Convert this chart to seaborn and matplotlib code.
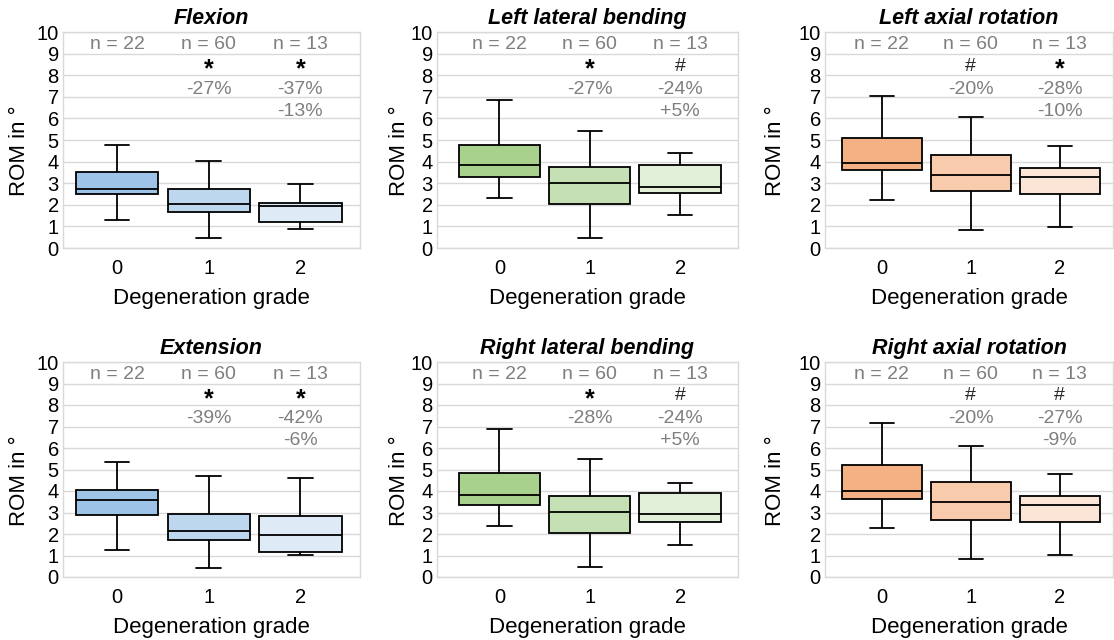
import numpy as np
import pandas as pd
import matplotlib
matplotlib.use("Agg")
import matplotlib.pyplot as plt
import seaborn as sns

# five-number summaries per grade: (min, q1, median, q3, max)
grades = ["0", "1", "2"]
n_labels = [22, 60, 13]

flexion = [(1.30, 2.50, 2.75, 3.53, 4.75), (0.48, 1.67, 2.04, 2.73, 4.03), (0.90, 1.22, 1.94, 2.10, 2.98)]
left_lat = [(2.30, 3.29, 3.83, 4.77, 6.87), (0.48, 2.04, 3.02, 3.75, 5.43), (1.54, 2.53, 2.82, 3.86, 4.40)]
left_axial = [(2.24, 3.61, 3.92, 5.11, 7.04), (0.82, 2.64, 3.40, 4.31, 6.08), (0.96, 2.48, 3.27, 3.70, 4.74)]
extension = [(1.24, 2.88, 3.56, 4.03, 5.37), (0.44, 1.74, 2.12, 2.91, 4.68), (1.01, 1.15, 1.94, 2.85, 4.60)]
right_lat = [(2.38, 3.36, 3.83, 4.85, 6.90), (0.47, 2.05, 3.03, 3.79, 5.47), (1.51, 2.55, 2.94, 3.93, 4.37)]
right_axial = [(2.27, 3.62, 4.00, 5.19, 7.15), (0.82, 2.64, 3.50, 4.43, 6.11), (1.01, 2.55, 3.37, 3.79, 4.81)]

titles = ["Flexion", "Left lateral bending", "Left axial rotation",
          "Extension", "Right lateral bending", "Right axial rotation"]
panel_data = [flexion, left_lat, left_axial, extension, right_lat, right_axial]

# significance markers and percentage changes (grade 1, grade 2)
marks = [["*", "*"], ["*", "#"], ["#", "*"], ["*", "*"], ["*", "#"], ["#", "#"]]
pct_first = [["-27%", "-37%"], ["-27%", "-24%"], ["-20%", "-28%"],
             ["-39%", "-42%"], ["-28%", "-24%"], ["-20%", "-27%"]]
pct_second = ["-13%", "+5%", "-10%", "-6%", "+5%", "-9%"]

blues = ["#9DC3E6", "#BDD7EE", "#DEEBF7"]
greens = ["#A9D18E", "#C5E0B4", "#E2F0D9"]
oranges = ["#F4B183", "#F8CBAD", "#FBE5D6"]
panel_colors = [blues, greens, oranges, blues, greens, oranges]

sns.set_theme(style="whitegrid")
plt.rcParams["font.family"] = ["Liberation Sans", "DejaVu Sans"]
plt.rcParams["text.color"] = "black"
plt.rcParams["axes.labelcolor"] = "black"

fig = plt.figure(figsize=(11.14, 6.4), dpi=100)

W, H = 1114, 640
# left px, right px, xlim, ylabel x offset (axes fraction)
col_px = [(63, 360, -0.59, 2.65, -0.11), (437, 738, -0.69, 2.64, -0.09), (825, 1113, -0.64, 2.60, -0.135)]
row_px = [(32, 248), (362, 577)]

for k in range(6):
    r, c = divmod(k, 3)
    x0, x1, xl0, xl1, ylx = col_px[c]
    yt, yb = row_px[r]
    ax = fig.add_axes([x0 / W, 1 - yb / H, (x1 - x0) / W, (yb - yt) / H])

    rows = []
    for g, stats in zip(grades, panel_data[k]):
        for v in stats:
            rows.append({"grade": g, "rom": v})
    df = pd.DataFrame(rows)

    sns.boxplot(data=df, x="grade", y="rom", hue="grade", order=grades, hue_order=grades,
                palette=panel_colors[k], saturation=1, whis=np.inf, width=0.9,
                linecolor="black", linewidth=1.3, legend=False, ax=ax, capwidths=0.27)

    ax.set_xlim(xl0, xl1)
    ax.set_ylim(0, 10)
    ax.set_yticks(range(11))
    ax.grid(axis="y", color="#d9d9d9", linewidth=1.0)
    ax.grid(axis="x", visible=False)
    ax.set_axisbelow(True)
    for s in ax.spines.values():
        s.set_color("#d9d9d9")
        s.set_linewidth(1.0)
    ax.tick_params(axis="y", length=0, labelsize=14.5, colors="black", pad=3)
    ax.tick_params(axis="x", length=0, labelsize=14.5, colors="black", pad=8)
    ax.set_xlabel("Degeneration grade", fontsize=16, labelpad=7)
    ax.set_ylabel("ROM in °", fontsize=16)
    ax.yaxis.set_label_coords(ylx, 0.45)
    ax.set_title(titles[k], fontsize=15.5, fontweight="bold", fontstyle="italic", pad=6,
                 color="black")

    for i, n in enumerate(n_labels):
        ax.text(i, 9.42, f"n = {n}", ha="center", va="center", fontsize=14, color="#7f7f7f")
    for j in (1, 2):
        m = marks[k][j - 1]
        if m == "*":
            ax.text(j, 8.25, m, ha="center", va="center", fontsize=18, fontweight="bold", color="black")
        else:
            ax.text(j, 8.42, m, ha="center", va="center", fontsize=14, color="#262626")
        ax.text(j, 7.35, pct_first[k][j - 1], ha="center", va="center", fontsize=14, color="#7f7f7f")
    ax.text(2, 6.33, pct_second[k], ha="center", va="center", fontsize=14, color="#7f7f7f")

fig.savefig("out.png", dpi=100)
